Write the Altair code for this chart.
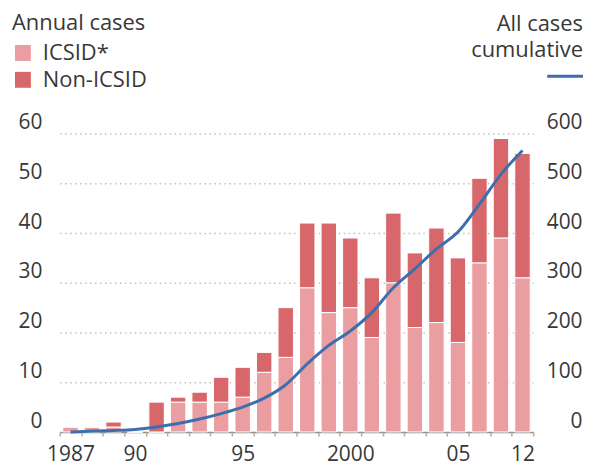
import altair as alt
import pandas as pd

# ---- data ----
tick_labels = ["1987", "", "", "90", "", "", "", "", "95", "", "", "", "",
               "2000", "", "", "", "", "05", "", "", "12"]
icsid = [1, 1, 1, 0, 0, 6, 6, 6, 7, 12, 15, 29, 24, 25, 19, 30, 21, 22, 18, 34, 39, 31]
non_icsid = [0, 0, 1, 0, 6, 1, 2, 5, 6, 4, 10, 13, 18, 14, 12, 14, 15, 19, 17, 17, 20, 25]
cumulative = [0, 2, 3, 5, 10, 17, 26, 37, 50, 68, 95, 137, 174, 203, 240, 290, 328,
              368, 402, 458, 518, 566]
types = ["ICSID*", "Non-ICSID"]
line_title = ["All cases", "cumulative"]
left_ticks = [0, 10, 20, 30, 40, 50, 60]
right_ticks = [0, 100, 200, 300, 400, 500, 600]

LIGHT = "#eb9ea1"
DARK = "#d8676b"
BLUE = "#3d6fae"
TEXT = "#383838"
FONT = "Open Sans"

rows = []
for i in range(len(tick_labels)):
    rows.append({"idx": i, "type": types[0], "value": icsid[i], "ord": 0})
    rows.append({"idx": i, "type": types[1], "value": non_icsid[i], "ord": 1})
bar_df = pd.DataFrame(rows)
line_df = pd.DataFrame({"idx": list(range(len(tick_labels))),
                        "cum": cumulative})
title_df1 = pd.DataFrame({"t": [line_title[0]]})
title_df2 = pd.DataFrame({"t": [line_title[1]]})

label_expr = "[" + ",".join("'%s'" % t for t in tick_labels) + "][datum.value]"

x_enc = alt.X(
    "idx:O",
    scale=alt.Scale(paddingInner=0, paddingOuter=0, range=[49, 525]),
    axis=alt.Axis(title=None, labelExpr=label_expr, tickBand="extent",
                  labelOverlap=False, labelAngle=0, labelFontSize=21,
                  labelColor=TEXT, labelPadding=8, tickSize=4,
                  tickColor="#b9ad9a", tickWidth=1.5,
                  domain=False, grid=False),
)

bars = alt.Chart(bar_df).mark_bar(width=15.5, stroke="white", strokeWidth=1).encode(
    x=x_enc,
    y=alt.Y("value:Q", stack="zero",
            scale=alt.Scale(domain=[0, 60], nice=False),
            axis=alt.Axis(title=None, orient="left", values=left_ticks,
                          grid=True,
                          gridDash=alt.condition("datum.value == 0", alt.value([]), alt.value([1.5, 3.5])),
                          gridColor=alt.condition("datum.value == 0", alt.value("#8f8f8f"), alt.value("#c9bfae")),
                          gridWidth=1.5, domain=False, ticks=False, tickSize=0,
                          labelAlign="right", labelPadding=-31,
                          labelBaseline="alphabetic", labelOffset=-5,
                          labelFontSize=21, labelColor=TEXT)),
    color=alt.Color("type:N",
                    scale=alt.Scale(domain=types, range=[LIGHT, DARK]),
                    legend=alt.Legend(title="Annual cases", orient="none",
                                      legendX=1, legendY=-121,
                                      symbolType="square", symbolSize=256,
                                      symbolStrokeWidth=0, symbolOpacity=1,
                                      labelFontSize=22, titleFontSize=22,
                                      titleFontWeight="normal", titleColor=TEXT,
                                      labelColor=TEXT, rowPadding=5,
                                      titlePadding=7, labelOffset=9)),
    order=alt.Order("ord:Q"),
)

line = alt.Chart(line_df).mark_line(strokeWidth=3, interpolate="monotone",
                                    color=BLUE).encode(
    x=x_enc,
    y=alt.Y("cum:Q",
            scale=alt.Scale(domain=[0, 600], nice=False),
            axis=alt.Axis(title=None, orient="right", values=right_ticks,
                          grid=False, domain=False, ticks=False, tickSize=0,
                          labelAlign="right", labelPadding=-1,
                          labelBaseline="alphabetic", labelOffset=-5,
                          labelFontSize=21, labelColor=TEXT)),
)

# legend for the cumulative line (title text + line swatch)
key_style = dict(align="right", baseline="alphabetic", fontSize=22, font=FONT, color=TEXT)
line_key_text1 = alt.Chart(title_df1).mark_text(**key_style).encode(
    text="t:N", x=alt.value(575), y=alt.value(-103))
line_key_text2 = alt.Chart(title_df2).mark_text(**key_style).encode(
    text="t:N", x=alt.value(575), y=alt.value(-77))

line_key_swatch = alt.Chart(title_df1).mark_rule(
    color=BLUE, strokeWidth=3
).encode(x=alt.value(539), x2=alt.value(577), y=alt.value(-57.5))

chart = alt.layer(bars, line, line_key_text1, line_key_text2, line_key_swatch).resolve_scale(
    y="independent"
).properties(
    width=575, height=300,
    autosize=alt.AutoSizeParams(type="none"),
    padding={"left": 3, "top": 125, "right": 0, "bottom": 33},
    background="white",
).configure_view(stroke=None).configure_axis(
    labelFont=FONT, titleFont=FONT
).configure_legend(labelFont=FONT, titleFont=FONT)

chart.save("out.html", embed_options={"renderer": "svg", "actions": False})
